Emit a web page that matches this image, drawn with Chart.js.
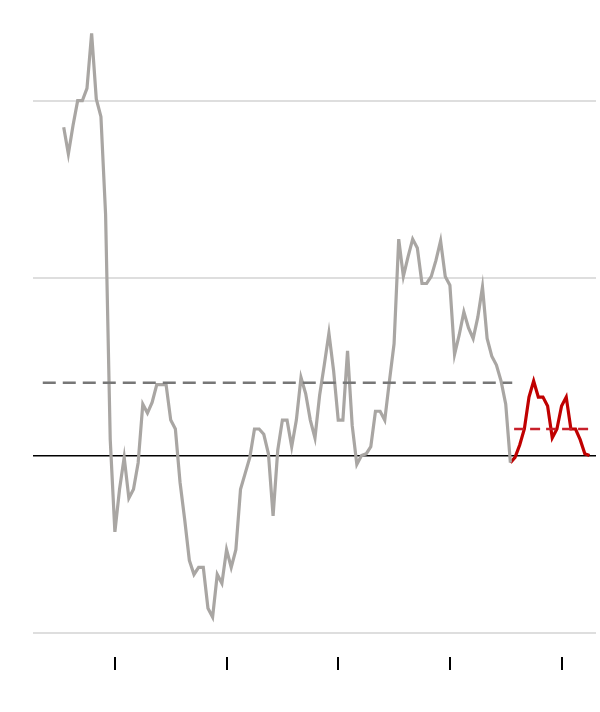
<!DOCTYPE html>
<html><head><meta charset="utf-8">
<script src="https://cdn.jsdelivr.net/npm/chart.js@4"></script>
<style>html,body{margin:0;padding:0;background:#fff}#w{width:600px;height:712px}</style>
</head><body><div id="w"><canvas id="c"></canvas></div>
<script>
const grayStart = 1;
const grayValues = [1.85,1.70,1.86,2.00,2.00,2.07,2.38,2.01,1.91,1.36,0.09,-0.43,-0.19,-0.01,-0.24,-0.19,-0.04,0.29,0.24,0.30,0.40,0.40,0.40,0.20,0.15,-0.15,-0.36,-0.59,-0.67,-0.63,-0.63,-0.86,-0.91,-0.67,-0.72,-0.53,-0.63,-0.53,-0.19,-0.10,-0.01,0.15,0.15,0.12,0.01,-0.34,0.03,0.20,0.20,0.05,0.20,0.44,0.35,0.20,0.10,0.34,0.51,0.69,0.48,0.20,0.20,0.59,0.17,-0.05,0.00,0.01,0.05,0.25,0.25,0.20,0.42,0.63,1.22,1.01,1.12,1.22,1.17,0.97,0.97,1.01,1.10,1.21,1.01,0.96,0.57,0.68,0.81,0.72,0.66,0.78,0.95,0.66,0.56,0.51,0.42,0.29,-0.04];
const redStart = 97;
const redValues = [-0.04,-0.01,0.06,0.15,0.33,0.42,0.33,0.33,0.28,0.10,0.15,0.28,0.33,0.15,0.15,0.09,0.01,0.00];
const grayAvg = 0.41, grayAvgFrom = -3.5, grayAvgTo = 97.4;
const redAvg = 0.15, redAvgFrom = 97.8, redAvgTo = 114.2;
const xTicks = [12,36,60,84,108];
const yTicks = [-1,0,1,2];

const gray = grayValues.map((v,i)=>({x:grayStart+i,y:v}));
const red = redValues.map((v,i)=>({x:redStart+i,y:v}));
new Chart(document.getElementById('c'),{
  type:'line',
  data:{datasets:[
    {data:[{x:grayAvgFrom,y:grayAvg},{x:grayAvgTo,y:grayAvg}],borderColor:'#777',borderWidth:2.5,borderDash:[13,7],pointRadius:0},
    {data:[{x:redAvgFrom,y:redAvg},{x:redAvgTo,y:redAvg}],borderColor:'#c8202a',borderWidth:2.5,borderDash:[10,6],pointRadius:0},
    {data:gray,borderColor:'#a9a6a3',borderWidth:3.2,pointRadius:0,tension:0},
    {data:red,borderColor:'#c00000',borderWidth:3.2,pointRadius:0,tension:0}
  ]},
  options:{
    animation:false,responsive:true,maintainAspectRatio:false,
    layout:{padding:{left:33,right:4,top:12,bottom:42}},
    plugins:{legend:{display:false},tooltip:{enabled:false}},
    scales:{
      x:{type:'linear',min:-5.6,max:115.4,
        afterBuildTicks:a=>{a.ticks=xTicks.map(v=>({value:v}));},
        ticks:{display:false},border:{display:false},
        grid:{drawOnChartArea:false,drawTicks:true,tickLength:13,color:'#000',lineWidth:2}},
      y:{min:-1.135,max:2.5,
        afterBuildTicks:a=>{a.ticks=yTicks.map(v=>({value:v}));},
        ticks:{display:false},border:{display:false},
        grid:{drawTicks:false,color:c=>c.tick&&c.tick.value===0?'#000':'#dedede',lineWidth:c=>c.tick&&c.tick.value===0?1.5:2}}
    }
  }
});
</script></body></html>
